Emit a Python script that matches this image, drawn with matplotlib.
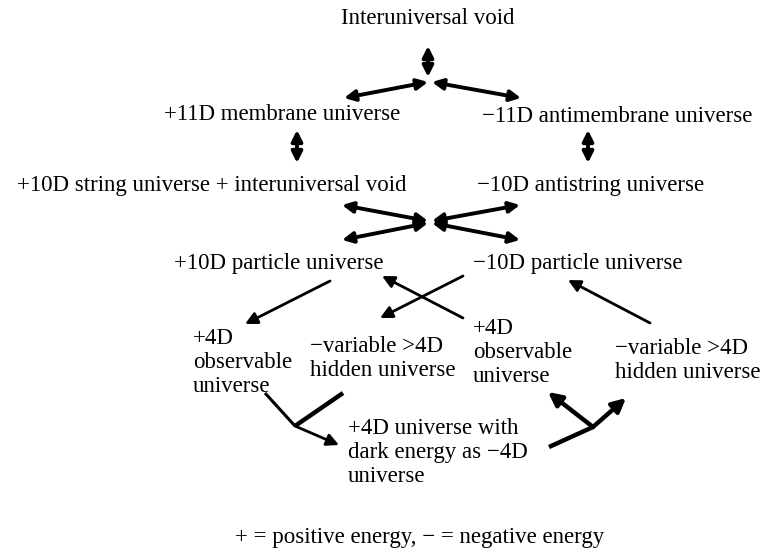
import matplotlib
matplotlib.use("Agg")
import matplotlib.pyplot as plt

plt.rcParams['font.family'] = ['Liberation Serif', 'DejaVu Serif']

# node labels
labels = ["Interuniversal void",
          "+11D membrane universe",
          "\u221211D antimembrane universe",
          "+10D string universe + interuniversal void",
          "\u221210D antistring universe",
          "+10D particle universe",
          "\u221210D particle universe",
          "+4D\nobservable\nuniverse",
          "\u2212variable >4D\nhidden universe",
          "+4D\nobservable\nuniverse",
          "\u2212variable >4D\nhidden universe",
          "+4D universe with\ndark energy as \u22124D\nuniverse"]
footer = "+ = positive energy, \u2212 = negative energy"

# (x, y, ha, va) in pixel coordinates, y down
label_pos = [(428, 18, 'center', 'center'),
             (282, 115, 'center', 'center'),
             (617, 116, 'center', 'center'),
             (212, 185, 'center', 'center'),
             (591, 185, 'center', 'center'),
             (279, 263, 'center', 'center'),
             (578, 263, 'center', 'center'),
             (193, 328, 'left', 'top'),
             (310, 336, 'left', 'top'),
             (473, 318, 'left', 'top'),
             (615, 338, 'left', 'top'),
             (348, 418, 'left', 'top')]

# double-headed thick arrows (start, end)
double_arrows = [((428, 77), (428, 46)),
                 ((428, 82), (344, 98)),
                 ((432, 82), (521, 98)),
                 ((297, 130), (297, 163)),
                 ((588, 130), (588, 163)),
                 ((428, 221), (342, 205)),
                 ((432, 221), (520, 205)),
                 ((428, 223), (342, 240)),
                 ((432, 223), (520, 240))]

# single thin arrows (start, end)
thin_arrows = [((330, 281), (245, 324)),
               ((463, 276), (380, 318)),
               ((463, 318), (382, 276)),
               ((650, 323), (568, 280)),
               ((295, 426), (339, 445))]

# thick arrows (start, end)
thick_arrows = [((593, 427), (548, 392)),
                ((593, 427), (626, 398))]

# plain lines
lines = [((265, 393), (295, 426), 2.2),
         ((295, 426), (343, 393), 3.2),
         ((549, 447), (593, 427), 3.2)]

fig = plt.figure(figsize=(7.63, 5.51), dpi=100)
ax = fig.add_axes([0, 0, 1, 1])
ax.set_xlim(0, 763)
ax.set_ylim(551, 0)
ax.axis('off')

fs = 16.5
for txt, (x, y, ha, va) in zip(labels, label_pos):
    ax.text(x, y, txt, ha=ha, va=va, fontsize=fs, linespacing=1.2)
ax.text(420, 537, footer, ha='center', va='center', fontsize=fs)

for (x0, y0), (x1, y1) in double_arrows:
    ax.annotate('', xy=(x1, y1), xytext=(x0, y0),
                arrowprops=dict(arrowstyle='<|-|>', lw=2.8, color='black',
                                mutation_scale=16, shrinkA=0, shrinkB=0))

for (x0, y0), (x1, y1) in thin_arrows:
    ax.annotate('', xy=(x1, y1), xytext=(x0, y0),
                arrowprops=dict(arrowstyle='-|>', lw=2.0, color='black',
                                mutation_scale=18, shrinkA=0, shrinkB=0))

for (x0, y0), (x1, y1) in thick_arrows:
    ax.annotate('', xy=(x1, y1), xytext=(x0, y0),
                arrowprops=dict(arrowstyle='-|>', lw=3.2, color='black',
                                mutation_scale=20, shrinkA=0, shrinkB=0))

for (x0, y0), (x1, y1), w in lines:
    ax.plot([x0, x1], [y0, y1], color='black', lw=w, solid_capstyle='butt')

fig.savefig('out.png', dpi=100)
